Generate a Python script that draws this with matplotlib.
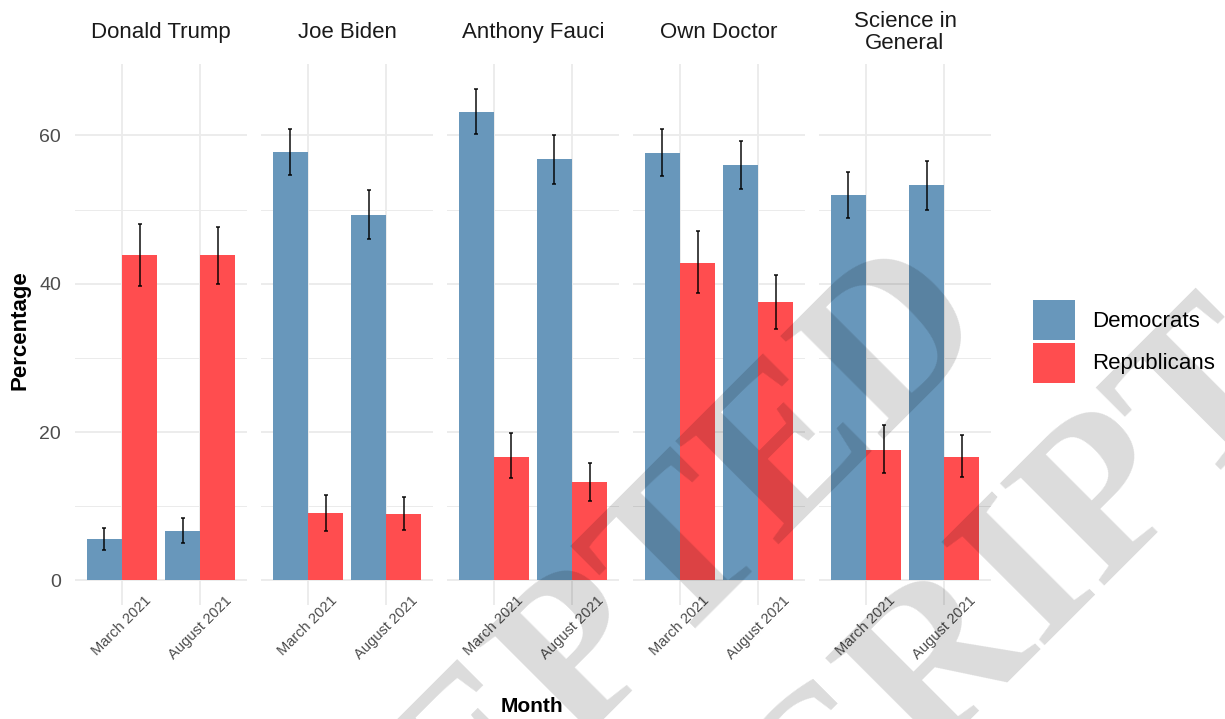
import numpy as np
import matplotlib
matplotlib.use('Agg')
import matplotlib.pyplot as plt
import matplotlib.transforms as mtransforms
from matplotlib.patches import Patch

plt.rcParams['font.family'] = ['Liberation Sans', 'DejaVu Sans']

# Trust in sources, share of respondents by party (with 95% CI)
people = ['Donald Trump', 'Joe Biden', 'Anthony Fauci', 'Own Doctor', 'Science in\nGeneral']
months = ['March 2021', 'August 2021']

dem = [[5.6, 6.7], [57.7, 49.3], [63.2, 56.8], [57.6, 56.0], [51.9, 53.3]]
dem_lo = [[4.1, 5.0], [54.7, 46.0], [60.2, 53.5], [54.5, 52.7], [48.8, 50.0]]
dem_hi = [[7.1, 8.4], [60.9, 52.6], [66.3, 60.1], [60.8, 59.3], [55.1, 56.6]]

rep = [[43.8, 43.8], [9.1, 8.9], [16.7, 13.2], [42.8, 37.5], [17.6, 16.7]]
rep_lo = [[39.7, 40.0], [6.7, 6.8], [13.8, 10.7], [38.7, 33.9], [14.5, 13.9]]
rep_hi = [[48.0, 47.7], [11.5, 11.2], [19.9, 15.8], [47.1, 41.2], [20.9, 19.6]]

parties = ['Democrats', 'Republicans']
colors = ['#6897BB', '#FF4D4F']

ytop = max(np.max(dem_hi), np.max(rep_hi))
ypad = 0.05 * ytop

fig = plt.figure(figsize=(12.25, 7.19), dpi=100)
W, H = 1225.0, 719.0

# nudge the slanted month labels a little to the right
shift = mtransforms.ScaledTranslation(4 / 100, 0, fig.dpi_scale_trans)

x = np.arange(1, len(months) + 1)
bw = 0.45
for i, name in enumerate(people):
    left = 75 + i * 186
    ax = fig.add_axes([left / W, 1 - 605 / H, 172 / W, 541 / H])
    for j, (vals, lo, hi) in enumerate([(dem[i], dem_lo[i], dem_hi[i]),
                                        (rep[i], rep_lo[i], rep_hi[i])]):
        xs = x + (j - 0.5) * bw
        vals = np.array(vals)
        ax.bar(xs, vals, width=bw, color=colors[j], edgecolor='none', zorder=2)
        err = [vals - np.array(lo), np.array(hi) - vals]
        ax.errorbar(xs, vals, yerr=err, fmt='none', ecolor='black', elinewidth=1.3,
                    capsize=1.6, capthick=1.3, alpha=0.8, zorder=3)
    ax.set_xlim(0.4, 2.6)
    ax.set_ylim(-ypad, ytop + ypad)
    ax.set_xticks(x)
    ax.set_xticklabels(months, rotation=45, ha='center', va='top',
                       fontsize=10.5, color='#4D4D4D')
    for lab in ax.get_xticklabels():
        lab.set_transform(lab.get_transform() + shift)
    ax.set_yticks([0, 20, 40, 60])
    ax.set_yticks([10, 30, 50], minor=True)
    ax.tick_params(axis='both', which='both', length=0)
    ax.tick_params(axis='x', pad=-8)
    ax.tick_params(axis='y', pad=10, labelsize=14, labelcolor='#4D4D4D')
    if i > 0:
        ax.tick_params(axis='y', labelleft=False)
    ax.grid(True, which='major', color='#EBEBEB', lw=1.3, zorder=0)
    ax.grid(True, which='minor', axis='y', color='#EBEBEB', lw=0.7, zorder=0)
    ax.set_axisbelow(True)
    for s in ax.spines.values():
        s.set_visible(False)
    ax.text(0.5, 1.058, name, transform=ax.transAxes, ha='center', va='center',
            fontsize=16, color='#1A1A1A', linespacing=1.1)

fig.text(20 / W, 1 - 330 / H, 'Percentage', rotation=90, ha='center', va='center',
         fontsize=16, fontweight='bold')
fig.text(532 / W, 1 - 706 / H, 'Month', ha='center', va='center',
         fontsize=15, fontweight='bold')

handles = [Patch(facecolor=c, edgecolor='none') for c in colors]
fig.legend(handles, parties, loc='center left', bbox_to_anchor=(1033 / W, 1 - 341.5 / H),
           frameon=False, fontsize=16, handlelength=1.9, handleheight=2.4,
           labelspacing=0.1, handletextpad=0.75, borderpad=0, borderaxespad=0)

# diagonal watermark
wm = dict(rotation=45, rotation_mode='anchor', ha='center', va='center', fontsize=160,
          family='Liberation Serif', fontweight='bold', color='black', alpha=0.14, zorder=10)
fig.text(524 / W, 1 - 720 / H, 'ACCEPTED', **wm)
fig.text(730 / W, 1 - 880 / H, 'MANUSCRIPT', **wm)

fig.savefig('out.png', dpi=100)
